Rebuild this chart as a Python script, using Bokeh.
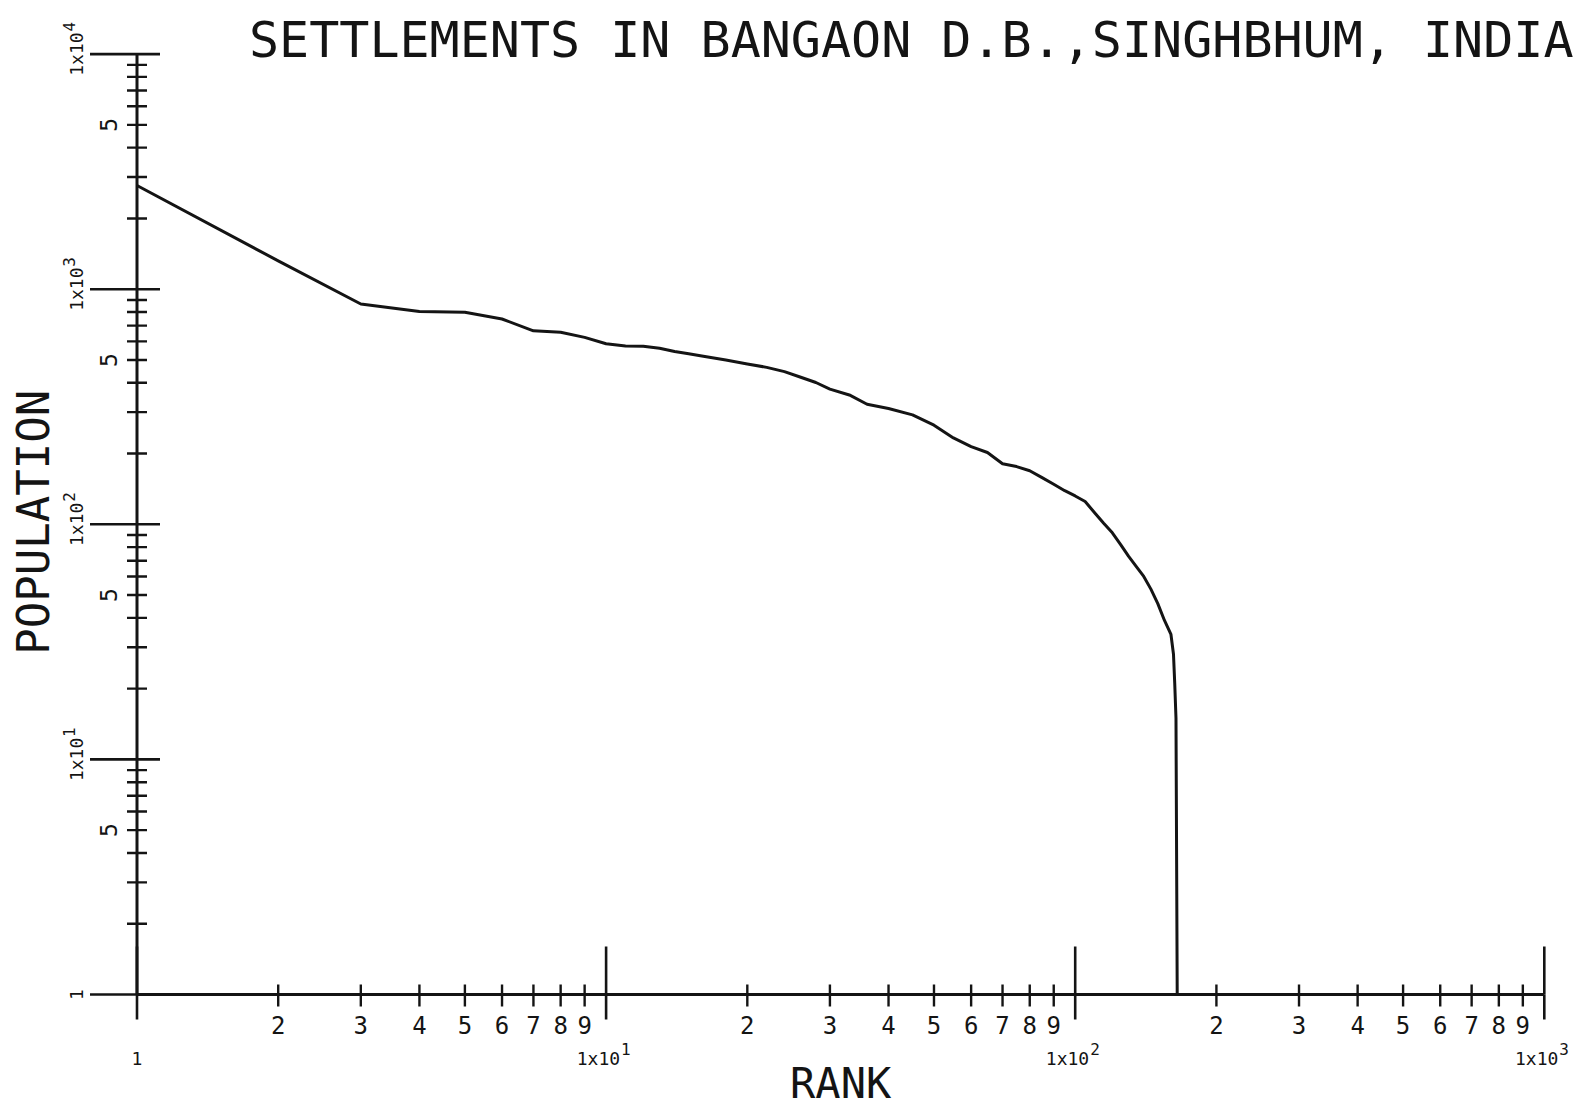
import math
from bokeh.plotting import figure
from bokeh.models import Range1d, ColumnDataSource
from bokeh.embed import file_html
from bokeh.resources import INLINE
from bokeh.core.properties import value

# ---------------- data ----------------
rank = [1, 2, 3, 4, 5, 6, 7, 8, 9, 10, 11, 12, 13, 14, 15, 16, 18, 20, 22, 24,
        26, 28, 30, 33, 36, 40, 45, 50, 55, 60, 65, 70, 75, 80, 85, 90, 95, 100,
        105, 110, 115, 120, 125, 130, 135, 140, 145, 150, 155, 160, 162, 163,
        164, 165]
population = [2760, 1320, 865, 804, 798, 747, 665, 656, 624, 586, 573, 572, 561,
              543, 531, 520, 500, 481, 465, 446, 422, 401, 376, 355, 324, 311,
              292, 264, 233, 214, 202, 181, 176, 169, 158, 148, 139, 132, 125,
              112, 101, 92, 82, 73, 66, 60, 53, 46, 39, 34, 28, 21, 15, 1]

x_decades = [1, 10, 100, 1000]
x_exponents = ["", "1", "2", "3"]
y_decades = [1, 10, 100, 1000, 10000]
y_exponents = ["", "1", "2", "3", "4"]
minor_digits = [2, 3, 4, 5, 6, 7, 8, 9]
y_minor_label_digit = 5

title_text = "SETTLEMENTS IN BANGAON D.B.,SINGHBHUM, INDIA"
x_title = "RANK"
y_title = "POPULATION"

# ---------------- layout ----------------
W, H = 1585, 1111
ORIGIN_X, ORIGIN_Y = 136.5, 994.0      # canvas px of (1, 1)
DEC_X, DEC_Y = 469.1, 235.1            # px per decade
x_lo = 10 ** (-ORIGIN_X / DEC_X)
x_hi = 10 ** ((W - ORIGIN_X) / DEC_X)
y_lo = 10 ** (-(H - ORIGIN_Y) / DEC_Y)
y_hi = 10 ** (ORIGIN_Y / DEC_Y)
BL = 0.4   # baseline correction (in em) for the renderer

INK = "#141414"
FONT = value("DejaVu Sans Mono")

p = figure(width=W, height=H, output_backend="svg", toolbar_location=None,
           x_axis_type="log", y_axis_type="log",
           x_axis_location=None, y_axis_location=None,
           x_range=Range1d(x_lo, x_hi), y_range=Range1d(y_lo, y_hi),
           min_border=0, title=None)
p.outline_line_color = None
p.grid.visible = False
p.background_fill_color = "white"
p.border_fill_color = "white"

x0 = x_decades[0]
y0 = y_decades[0]

# axis lines
p.line([x_decades[0], x_decades[-1]], [y0, y0], line_color=INK, line_width=3)
p.line([x0, x0], [y_decades[0], y_decades[-1]], line_color=INK, line_width=3)

up, down, left, right = math.pi / 2, -math.pi / 2, math.pi, 0.0

# x-axis ticks
x_minor = [d * k for k in x_decades[:-1] for d in minor_digits]
p.ray(x=x_decades, y=[y0] * len(x_decades), length=48, length_units="screen",
      angle=up, line_color=INK, line_width=2.6)
p.ray(x=x_decades, y=[y0] * len(x_decades), length=25, length_units="screen",
      angle=down, line_color=INK, line_width=2.6)
p.ray(x=x_minor, y=[y0] * len(x_minor), length=10, length_units="screen",
      angle=up, line_color=INK, line_width=2.4)
p.ray(x=x_minor, y=[y0] * len(x_minor), length=12, length_units="screen",
      angle=down, line_color=INK, line_width=2.4)

# y-axis ticks
y_minor = [d * k for k in y_decades[:-1] for d in minor_digits]
p.ray(x=[x0] * len(y_decades), y=y_decades, length=47, length_units="screen",
      angle=left, line_color=INK, line_width=2.6)
p.ray(x=[x0] * len(y_decades), y=y_decades, length=23, length_units="screen",
      angle=right, line_color=INK, line_width=2.6)
p.ray(x=[x0] * len(y_minor), y=y_minor, length=10, length_units="screen",
      angle=left, line_color=INK, line_width=2.4)
p.ray(x=[x0] * len(y_minor), y=y_minor, length=10, length_units="screen",
      angle=right, line_color=INK, line_width=2.4)

# x tick labels
p.text(x=x_minor, y=[y0] * len(x_minor),
       text=[str(d) for k in x_decades[:-1] for d in minor_digits],
       y_offset=40 - BL * 24, text_align="center", text_baseline="alphabetic",
       text_font=FONT, text_font_size="24px", text_color=INK)
x_base = ["1" if e == "" else "1x10" for e in x_exponents]
p.text(x=x_decades, y=[y0] * len(x_decades), text=x_base,
       x_offset=[0, 14, 14, 14], y_offset=71 - BL * 18,
       text_align=["center", "right", "right", "right"], text_baseline="alphabetic",
       text_font=FONT, text_font_size="18px", text_color=INK)
p.text(x=x_decades, y=[y0] * len(x_decades), text=x_exponents,
       x_offset=15, y_offset=61 - BL * 16, text_align="left", text_baseline="alphabetic",
       text_font=FONT, text_font_size="16px", text_color=INK)

# y tick labels (rotated)
y_five = [y_minor_label_digit * k for k in y_decades[:-1]]
p.text(x=[x0] * len(y_five), y=y_five, text=[str(y_minor_label_digit)] * len(y_five),
       x_offset=-19.5 - BL * 23, angle=up, text_align="center", text_baseline="alphabetic",
       text_font=FONT, text_font_size="23px", text_color=INK)
y_base = ["1" if e == "" else "1x10" for e in y_exponents]
p.text(x=[x0] * len(y_decades), y=y_decades, text=y_base,
       x_offset=-53.5 - BL * 18, angle=up, text_align="center",
       text_baseline="alphabetic", text_font=FONT, text_font_size="18px", text_color=INK)
p.text(x=[x0] * len(y_decades), y=y_decades, text=y_exponents,
       x_offset=-62 - BL * 16, y_offset=-22.5, angle=up, text_align="left",
       text_baseline="alphabetic", text_font=FONT, text_font_size="16px", text_color=INK)

# axis titles
x_mid = math.sqrt(x_decades[0] * x_decades[-1])
y_mid = math.sqrt(y_decades[0] * y_decades[-1])
p.text(x=[x_mid], y=[y0], text=[x_title], y_offset=106 - BL * 42, text_align="center",
       text_baseline="alphabetic", text_font=FONT, text_font_size="42px", text_color=INK)
p.text(x=[x0], y=[y_mid], text=[y_title], x_offset=-85.5 - BL * 44, y_offset=-2, angle=up,
       text_align="center", text_baseline="alphabetic", text_font=FONT,
       text_font_size="44px", text_color=INK)

# chart title
p.text(x=[x0], y=[y_decades[-1]], text=[title_text], x_offset=112, y_offset=6 - BL * 50,
       text_align="left", text_baseline="alphabetic", text_font=FONT,
       text_font_size="50px", text_color=INK)

# rank-size curve
src = ColumnDataSource(dict(rank=rank, population=population))
p.line("rank", "population", source=src, line_color=INK, line_width=3,
       line_join="round")

open("out.html", "w").write(file_html(p, INLINE))
